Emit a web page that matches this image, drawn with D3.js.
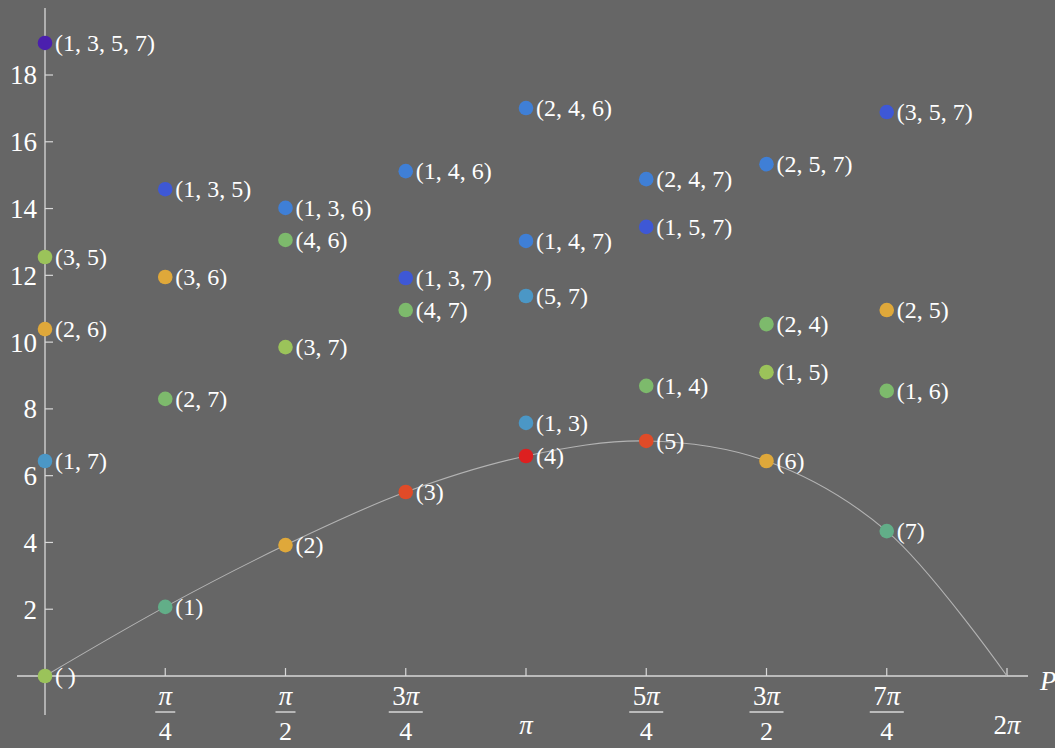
<!DOCTYPE html>
<html>
<head>
<meta charset="utf-8">
<script src="https://cdn.jsdelivr.net/npm/d3@7"></script>
<style>
  html, body { margin: 0; padding: 0; background: #666666; overflow: hidden; }
  svg { display: block; }
  text { font-family: "Liberation Serif", "DejaVu Serif", serif; fill: #ffffff; }
</style>
</head>
<body>
<svg id="chart" width="1055" height="748"></svg>
<script>
// ---- data ----
// x positions in multiples of pi/4
const xSteps = [0, 1, 2, 3, 4, 5, 6, 7, 8];
const xTickNum = ["", "\u03c0", "\u03c0", "3\u03c0", "\u03c0", "5\u03c0", "3\u03c0", "7\u03c0", "2\u03c0"];
const xTickDen = ["", "4", "2", "4", "", "4", "2", "4", ""];
const yTicks = [2, 4, 6, 8, 10, 12, 14, 16, 18];

// points: step (in pi/4), value, label, colour group
const ptStep  = [0, 0, 0, 0, 0,
                 1, 1, 1, 1,
                 2, 2, 2, 2,
                 3, 3, 3, 3,
                 4, 4, 4, 4, 4,
                 5, 5, 5, 5,
                 6, 6, 6, 6,
                 7, 7, 7, 7];
const ptValue = [18.96, 12.55, 10.39, 6.44, 0,
                 14.58, 11.95, 8.30, 2.07,
                 14.02, 13.06, 9.85, 3.92,
                 15.12, 11.92, 10.96, 5.51,
                 17.01, 13.03, 11.38, 7.58, 6.59,
                 14.88, 13.45, 8.69, 7.04,
                 15.33, 10.54, 9.10, 6.44,
                 16.89, 10.96, 8.54, 4.34];
const ptLabel = ["(1, 3, 5, 7)", "(3, 5)", "(2, 6)", "(1, 7)", "(\u2009)",
                 "(1, 3, 5)", "(3, 6)", "(2, 7)", "(1)",
                 "(1, 3, 6)", "(4, 6)", "(3, 7)", "(2)",
                 "(1, 4, 6)", "(1, 3, 7)", "(4, 7)", "(3)",
                 "(2, 4, 6)", "(1, 4, 7)", "(5, 7)", "(1, 3)", "(4)",
                 "(2, 4, 7)", "(1, 5, 7)", "(1, 4)", "(5)",
                 "(2, 5, 7)", "(2, 4)", "(1, 5)", "(6)",
                 "(3, 5, 7)", "(2, 5)", "(1, 6)", "(7)"];
const ptGroup = ["purple", "lime", "amber", "teal", "lime",
                 "indigo", "amber", "green", "mint",
                 "blue", "green", "lime", "amber",
                 "blue", "indigo", "green", "orange",
                 "blue", "blue", "teal", "teal", "red",
                 "blue", "indigo", "green", "orange",
                 "blue", "green", "lime", "amber",
                 "indigo", "amber", "green", "mint"];
const groupNames  = ["purple", "indigo", "blue", "teal", "green", "lime", "amber", "mint", "orange", "red"];
const groupColors = ["#4b1fae", "#3e58d6", "#3f7fd6", "#4b97c6", "#7dba6c", "#9bc35a", "#dfa83a", "#62ae88", "#e04b28", "#dd2020"];

// curve through the singleton points, ending at 2pi
const curveStep  = [0, 1, 2, 3, 4, 5, 6, 7, 8];
const curveValue = [0, 2.07, 3.92, 5.51, 6.59, 7.04, 6.44, 4.34, 0];

// ---- scales ----
const svg = d3.select("#chart");
const x = d3.scaleLinear().domain([0, 2 * Math.PI]).range([45, 1007]);
const y = d3.scaleLinear().domain([0, 18]).range([676, 75]);
const color = d3.scaleOrdinal().domain(groupNames).range(groupColors);
const sx = s => x(s * Math.PI / 4);

const axisColor = "#d9d9d9";

// axes lines
svg.append("line").attr("x1", 17).attr("x2", 1028).attr("y1", y(0)).attr("y2", y(0))
  .attr("stroke", axisColor).attr("stroke-width", 1.3);
svg.append("line").attr("x1", x(0)).attr("x2", x(0)).attr("y1", 8).attr("y2", 715)
  .attr("stroke", axisColor).attr("stroke-width", 1.3);

// y ticks
const yg = svg.append("g");
yTicks.forEach(t => {
  yg.append("line").attr("x1", x(0)).attr("x2", x(0) + 8).attr("y1", y(t)).attr("y2", y(t))
    .attr("stroke", axisColor).attr("stroke-width", 1.2);
  yg.append("text").attr("x", 37).attr("y", y(t)).attr("dy", "0.35em")
    .attr("text-anchor", "end").attr("font-size", 27).text(t);
});

// x ticks
const xg = svg.append("g");
xSteps.forEach((s, i) => {
  if (s === 0) return;
  const px = sx(s);
  xg.append("line").attr("x1", px).attr("x2", px).attr("y1", y(0)).attr("y2", y(0) - 8)
    .attr("stroke", axisColor).attr("stroke-width", 1.2);
  const numHtml = xTickNum[i].replace("\u03c0", "<tspan font-style='italic'>\u03c0</tspan>");
  if (xTickDen[i]) {
    const half = xTickNum[i].length > 1 ? 17 : 10;
    xg.append("text").attr("x", px).attr("y", 705).attr("text-anchor", "middle")
      .attr("font-size", 27).html(numHtml);
    xg.append("line").attr("x1", px - half).attr("x2", px + half).attr("y1", 712).attr("y2", 712)
      .attr("stroke", axisColor).attr("stroke-width", 1.4);
    xg.append("text").attr("x", px).attr("y", 740).attr("text-anchor", "middle")
      .attr("font-size", 26).text(xTickDen[i]);
  } else {
    xg.append("text").attr("x", px).attr("y", 734).attr("text-anchor", "middle")
      .attr("font-size", 27).html(numHtml);
  }
});

// axis label (at the right edge)
svg.append("text").attr("x", 1040).attr("y", 690).attr("font-size", 27)
  .attr("font-style", "italic").text("P");

// curve
const line = d3.line()
  .x((d, i) => sx(curveStep[i]))
  .y(d => y(d))
  .curve(d3.curveCatmullRom.alpha(0.5));
svg.append("path").datum(curveValue).attr("d", line)
  .attr("fill", "none").attr("stroke", "#b3b3b3").attr("stroke-width", 1.1);

// points
const pts = ptValue.map((v, i) => ({ s: ptStep[i], v, label: ptLabel[i], g: ptGroup[i] }));
const pg = svg.append("g");
pg.selectAll("circle").data(pts).join("circle")
  .attr("cx", d => sx(d.s)).attr("cy", d => y(d.v)).attr("r", 7.3)
  .attr("fill", d => color(d.g));
pg.selectAll("text").data(pts).join("text")
  .attr("x", d => sx(d.s) + 10).attr("y", d => y(d.v)).attr("dy", "0.33em")
  .attr("font-size", 24).text(d => d.label);
</script>
</body>
</html>
